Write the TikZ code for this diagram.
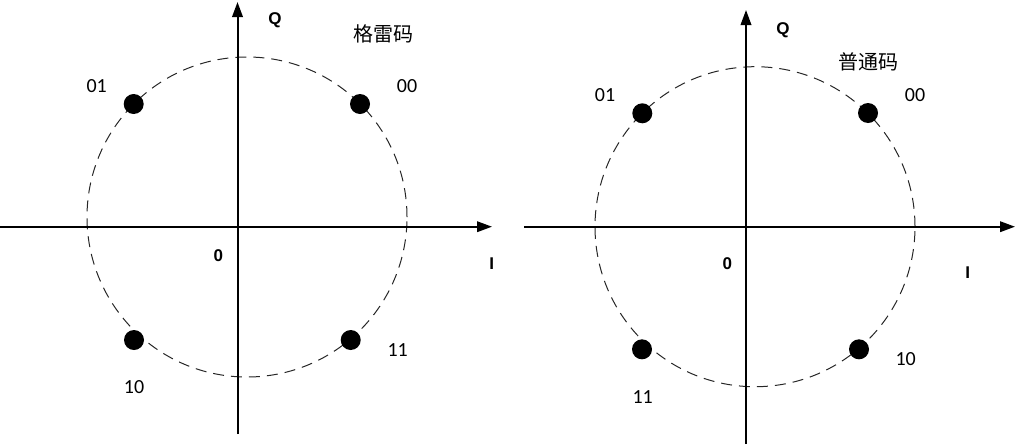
\documentclass[tikz,border=0pt]{standalone}
\usepackage{fontspec}
\setmainfont{Carlito}
\newfontfamily\axfont{Liberation Sans}
\newfontfamily\cjkfont{Noto Sans CJK SC}
\usetikzlibrary{arrows.meta}
\begin{document}
\begin{tikzpicture}[x=1pt,y=-1pt,
  axis/.style={line width=2pt,-{Triangle[length=15pt,width=10.5pt]}},
  ring/.style={line width=1pt,dash pattern=on 11pt off 7pt,draw=black!85},
  dot/.style={circle,fill=black,inner sep=0pt,minimum size=20pt},
  lbl/.style={inner sep=0pt,font=\fontsize{20}{24}\selectfont},
  axlbl/.style={inner sep=0pt,font=\fontsize{17}{20}\selectfont\axfont\bfseries},
  title/.style={inner sep=0pt,font=\fontsize{20}{24}\selectfont\cjkfont}]
\useasboundingbox (0,0) rectangle (1016,445);
% ---------- left diagram ----------
\coordinate (LHs) at (0,226.7);
\coordinate (LHe) at (492,226.7);
\coordinate (LVs) at (237.5,434);
\coordinate (LVe) at (237.5,2);
\coordinate (LC) at (247,217);
\draw[ring] (LC) circle[radius=160pt];
\draw[axis] (LHs) -- (LHe);
\draw[axis] (LVs) -- (LVe);
\node[dot] (L01) at (133.7,104) {};
\node[dot] (L00) at (360,104) {};
\node[dot] (L10) at (134,340) {};
\node[dot] (L11) at (350.7,340) {};
\node[lbl] (tL01) at (96.7,85.7) {01};
\node[lbl] (tL00) at (407,85.7) {00};
\node[lbl] (tL10) at (134,387) {10};
\node[lbl] (tL11) at (397.7,350) {11};
\node[axlbl] (LQ) at (275,20.7) {Q};
\node[axlbl] (LO) at (218.3,256) {0};
\node[axlbl] (LI) at (491.7,263.3) {I};
\node[title] (LT) at (383,34) {格雷码};
% ---------- right diagram ----------
\coordinate (RHs) at (524,226.7);
\coordinate (RHe) at (1015,226.7);
\coordinate (RVs) at (746,444);
\coordinate (RVe) at (746,10);
\coordinate (RC) at (755,226.7);
\draw[ring] (RC) circle[radius=160pt];
\draw[axis] (RHs) -- (RHe);
\draw[axis] (RVs) -- (RVe);
\node[dot] (R01) at (642.3,113.3) {};
\node[dot] (R00) at (868,113) {};
\node[dot] (R11) at (642,349.3) {};
\node[dot] (R10) at (859,349.3) {};
\node[lbl] (tR01) at (605,95) {01};
\node[lbl] (tR00) at (915,95) {00};
\node[lbl] (tR11) at (642.7,397.3) {11};
\node[lbl] (tR10) at (905.7,359) {10};
\node[axlbl] (RQ) at (783,30) {Q};
\node[axlbl] (RO) at (727.3,264) {0};
\node[axlbl] (RI) at (967.7,273) {I};
\node[title] (RT) at (868,62) {普通码};
\end{tikzpicture}
\end{document}
